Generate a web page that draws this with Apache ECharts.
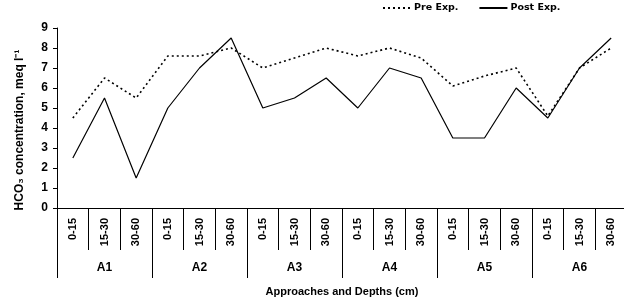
<!DOCTYPE html>
<html><head><meta charset="utf-8">
<script src="https://cdn.jsdelivr.net/npm/echarts@6/dist/echarts.min.js"></script>
<style>html,body{margin:0;padding:0;background:#fff}#c{width:624px;height:299px}</style>
</head><body><div id="c"></div>
<script>
const depths = ['0-15','15-30','30-60','0-15','15-30','30-60','0-15','15-30','30-60','0-15','15-30','30-60','0-15','15-30','30-60','0-15','15-30','30-60'];
const approaches = ['A1','A2','A3','A4','A5','A6'];
const preExp  = [4.5, 6.5, 5.5, 7.6, 7.6, 8.0, 7.0, 7.5, 8.0, 7.6, 8.0, 7.5, 6.1, 6.6, 7.0, 4.6, 7.0, 8.0];
const postExp = [2.5, 5.5, 1.5, 5.0, 7.0, 8.5, 5.0, 5.5, 6.5, 5.0, 7.0, 6.5, 3.5, 3.5, 6.0, 4.5, 7.0, 8.5];
const yTicks = [0,1,2,3,4,5,6,7,8,9];

const FONT = 'Liberation Sans';
const chart = echarts.init(document.getElementById('c'), null, {renderer:'canvas'});
chart.setOption({
  backgroundColor:'#fff',
  animation:false,
  textStyle:{fontFamily:FONT},
  legend:{
    left:382, top:3, padding:0, itemWidth:28, itemHeight:10, itemGap:20,
    itemStyle:{opacity:0},
    textStyle:{fontFamily:'DejaVu Sans', fontWeight:'bold', fontSize:9.5, color:'#000', padding:[0,0,0,-2]},
    data:['Pre Exp.','Post Exp.']
  },
  grid:{left:57, top:28, height:180, width:570, outerBoundsMode:'none', containLabel:false},
  yAxis:{
    type:'value', min:yTicks[0], max:yTicks[yTicks.length-1], interval:1,
    name:'HCO₃ concentration, meq l⁻¹', nameLocation:'middle', nameGap:31,
    nameTextStyle:{fontFamily:FONT, fontWeight:'bold', fontSize:12, color:'#000', padding:[0,24,0,0]},
    axisLine:{show:true, lineStyle:{color:'#000', width:1}},
    axisTick:{show:true, length:4, lineStyle:{color:'#000'}},
    axisLabel:{fontFamily:FONT, fontWeight:'bold', fontSize:12, color:'#000', margin:9},
    splitLine:{show:false}
  },
  xAxis:[{
    type:'category', data:depths, boundaryGap:true, position:'bottom',
    axisLine:{show:true, lineStyle:{color:'#000', width:1}},
    axisTick:{show:true, interval:0, length:42, lineStyle:{color:'#000'}},
    axisLabel:{interval:0, rotate:90, fontFamily:FONT, fontWeight:'bold', fontSize:11, color:'#000', margin:10}
  },{
    type:'category', data:approaches, boundaryGap:true, position:'bottom',
    name:'Approaches and Depths (cm)', nameLocation:'middle', nameGap:78,
    nameTextStyle:{fontFamily:FONT, fontWeight:'bold', fontSize:11, color:'#000'},
    axisLine:{show:true, lineStyle:{color:'#000', width:1}},
    axisTick:{show:true, interval:0, length:70, lineStyle:{color:'#000'}},
    axisLabel:{interval:0, fontFamily:FONT, fontWeight:'bold', fontSize:12, color:'#000', margin:54}
  }],
  series:[{
    name:'Pre Exp.', type:'line', xAxisIndex:0, data:preExp, symbol:'none',
    lineStyle:{color:'#000', width:1.6, type:[2,3]}, itemStyle:{color:'#000'}
  },{
    name:'Post Exp.', type:'line', xAxisIndex:0, data:postExp, symbol:'none',
    lineStyle:{color:'#000', width:1.2, type:'solid'}, itemStyle:{color:'#000'}
  },{
    type:'line', xAxisIndex:1, data:[], symbol:'none'
  }]
});
</script></body></html>
